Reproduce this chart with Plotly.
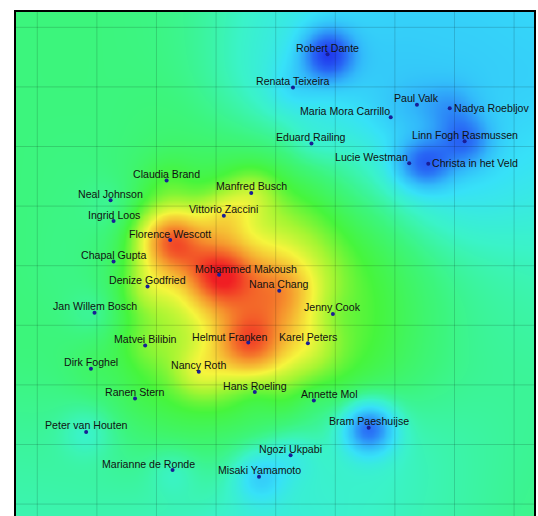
import numpy as np
import plotly.graph_objects as go

# ---- data (positions in chart units, value on 0..1 colour scale) ----
names = ["Robert Dante", "Renata Teixeira", "Paul Valk", "Nadya Roebljov", "Maria Mora Carrillo",
         "Eduard Railing", "Linn Fogh Rasmussen", "Lucie Westman", "Christa in het Veld",
         "Claudia Brand", "Manfred Busch", "Neal Johnson", "Vittorio Zaccini", "Ingrid Loos",
         "Florence Wescott", "Chapal Gupta", "Mohammed Makoush", "Denize Godfried", "Nana Chang",
         "Jan Willem Bosch", "Jenny Cook", "Matvei Bilibin", "Helmut Franken", "Karel Peters",
         "Dirk Foghel", "Nancy Roth", "Ranen Stern", "Hans Roeling", "Annette Mol",
         "Peter van Houten", "Bram Paeshuijse", "Ngozi Ukpabi", "Marianne de Ronde", "Misaki Yamamoto"]
x_pos = [4.87, 4.29, 6.37, 6.92, 5.93,
         4.60, 7.17, 6.24, 6.56,
         2.17, 3.59, 1.23, 3.13, 1.28,
         2.23, 1.28, 3.05, 1.85, 4.06,
         0.96, 4.96, 1.81, 3.54, 4.54,
         0.90, 2.71, 1.64, 3.65, 4.64,
         0.82, 5.56, 4.25, 2.27, 3.72]
y_pos = [0.45, 1.01, 1.30, 1.36, 1.51,
         1.95, 1.91, 2.28, 2.29,
         2.57, 2.78, 2.90, 3.16, 3.25,
         3.57, 3.93, 4.15, 4.35, 4.42,
         4.79, 4.81, 5.34, 5.29, 5.30,
         5.73, 5.78, 6.23, 6.12, 6.26,
         6.79, 6.72, 7.18, 7.43, 7.54]
values = [0.03, 0.30, 0.25, 0.20, 0.29,
          0.40, 0.13, 0.27, 0.15,
          0.55, 0.66, 0.46, 0.72, 0.48,
          0.92, 0.50, 1.00, 0.66, 0.86,
          0.45, 0.60, 0.60, 0.94, 0.70,
          0.50, 0.70, 0.52, 0.55, 0.50,
          0.40, 0.13, 0.37, 0.41, 0.29]
# width of each person's colour patch (chart units)
spread = {n: 0.30 for n in names}
spread.update({"Mohammed Makoush": 0.40, "Helmut Franken": 0.40, "Nana Chang": 0.42,
               "Florence Wescott": 0.38})

# broad background level read on a coarse grid (rows: y nodes, cols: x nodes)
bg_x_nodes = [-0.5, 1.0, 2.5, 4.0, 5.5, 7.0, 8.5]
bg_y_nodes = [-0.5, 1.0, 2.5, 4.0, 5.5, 7.0, 8.5]
bg_levels = [
    [0.47, 0.47, 0.45, 0.37, 0.30, 0.29, 0.30],
    [0.47, 0.47, 0.46, 0.37, 0.29, 0.28, 0.29],
    [0.47, 0.47, 0.52, 0.53, 0.42, 0.32, 0.34],
    [0.47, 0.48, 0.66, 0.71, 0.55, 0.44, 0.41],
    [0.47, 0.49, 0.62, 0.68, 0.55, 0.46, 0.44],
    [0.44, 0.45, 0.49, 0.45, 0.41, 0.43, 0.45],
    [0.42, 0.42, 0.40, 0.37, 0.40, 0.43, 0.46],
]

# label placement: (anchor, dx px, dy px)
label_pos = {n: ("center", 0, 6.5) for n in names}
label_pos.update({
    "Nadya Roebljov": ("left", 2, 0.5),
    "Christa in het Veld": ("left", 2, 0.5),
    "Maria Mora Carrillo": ("right", 1, 6),
    "Lucie Westman": ("right", 1, 6),
    "Mohammed Makoush": ("center", 27, 6),
    "Helmut Franken": ("center", -19, 6),
    "Marianne de Ronde": ("center", -24, 6),
    "Annette Mol": ("center", 16, 6.5),
})

X_RANGE = [-0.357, 8.334]
Y_RANGE = [8.200, -0.257]


def interp_matrix(coords, nodes):
    nodes = np.asarray(nodes, float)
    h = nodes[1] - nodes[0]
    n = len(nodes)
    u = (np.asarray(coords, float) - nodes[0]) / h
    i = np.floor(u).astype(int)
    t = u - i
    ws = [(-t ** 3 + 2 * t ** 2 - t) / 2, (3 * t ** 3 - 5 * t ** 2 + 2) / 2,
          (-3 * t ** 3 + 4 * t ** 2 + t) / 2, (t ** 3 - t ** 2) / 2]
    M = np.zeros((len(u), n))
    rows = np.arange(len(u))
    for k, wk in zip((-1, 0, 1, 2), ws):
        np.add.at(M, (rows, np.clip(i + k, 0, n - 1)), wk)
    return M


G = np.array(bg_levels)
px = np.array(x_pos); py = np.array(y_pos); pv = np.array(values)
ps = np.array([spread[n] for n in names])
bg_at_people = ((interp_matrix(py, bg_y_nodes) @ G) * interp_matrix(px, bg_x_nodes)).sum(1)
resid = pv - bg_at_people

gx = np.arange(X_RANGE[0] - 0.05, X_RANGE[1] + 0.06, 0.04)
gy = np.arange(Y_RANGE[1] - 0.05, Y_RANGE[0] + 0.06, 0.04)
BG = interp_matrix(gy, bg_y_nodes) @ G @ interp_matrix(gx, bg_x_nodes).T
GX, GY = np.meshgrid(gx, gy)
D2 = (GX[..., None] - px) ** 2 + (GY[..., None] - py) ** 2
Z = np.clip(BG + (resid * np.exp(-D2 / (2 * ps ** 2))).sum(-1), 0, 1)

colorscale = [
    [0.00, "rgb(30,45,235)"],
    [0.12, "rgb(40,105,245)"],
    [0.24, "rgb(50,185,250)"],
    [0.32, "rgb(55,225,248)"],
    [0.40, "rgb(58,243,200)"],
    [0.47, "rgb(60,245,125)"],
    [0.55, "rgb(70,245,60)"],
    [0.63, "rgb(165,245,50)"],
    [0.72, "rgb(245,245,60)"],
    [0.86, "rgb(245,145,45)"],
    [1.00, "rgb(240,30,35)"],
]

fig = go.Figure()
fig.add_trace(go.Heatmap(x=gx, y=gy, z=Z, colorscale=colorscale, zmin=0, zmax=1,
                         showscale=False, zsmooth="best", hoverinfo="skip"))
fig.add_trace(go.Scatter(x=x_pos, y=y_pos, mode="markers", text=names, hoverinfo="text",
                         marker=dict(size=4, color="rgb(25,30,150)"), showlegend=False))

shapes = []
for k in range(0, 9):
    shapes.append(dict(type="line", xref="x", yref="paper", x0=k, x1=k, y0=0, y1=1,
                       line=dict(color="rgba(0,0,0,0.15)", width=1)))
    shapes.append(dict(type="line", xref="paper", yref="y", x0=0, x1=1, y0=k, y1=k,
                       line=dict(color="rgba(0,0,0,0.15)", width=1)))

annotations = []
for n, xx, yy in zip(names, x_pos, y_pos):
    anc, dx, dy = label_pos[n]
    annotations.append(dict(x=xx, y=yy, text=n, showarrow=False, xanchor=anc, yanchor="middle",
                            xshift=dx, yshift=dy,
                            font=dict(family="Helvetica, Arial, Liberation Sans", size=10.6,
                                      color="#111111")))

fig.update_layout(
    width=538, height=516,
    margin=dict(l=16, r=4, t=12, b=0),
    paper_bgcolor="white", plot_bgcolor="white",
    shapes=shapes, annotations=annotations,
    xaxis=dict(range=X_RANGE, showgrid=False, zeroline=False, showticklabels=False, ticks="",
               showline=True, linecolor="black", linewidth=2, side="top", mirror=False),
    yaxis=dict(range=Y_RANGE, showgrid=False, zeroline=False, showticklabels=False, ticks="",
               showline=True, linecolor="black", linewidth=2, mirror=True),
    showlegend=False,
)
fig.write_html("out.html", config={"displayModeBar": False},
               post_script="document.body.style.margin='0';document.body.style.overflow='hidden';")
